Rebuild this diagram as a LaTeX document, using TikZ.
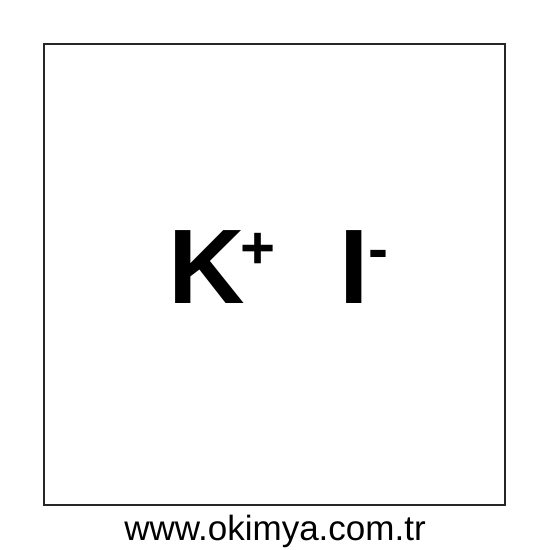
\documentclass[tikz,border=0pt]{standalone}
\usepackage{fontspec}
\setmainfont{Liberation Sans}
\usetikzlibrary{positioning}

\newcommand{\ioncharge}[2]{\raisebox{#1}{\fontsize{60}{64}\selectfont #2}}

\tikzset{
  ion/.style={inner sep=0pt, anchor=base west, font=\fontsize{106}{110}\selectfont\bfseries},
  site/.style={inner sep=0pt, anchor=base, font=\fontsize{35}{40}\selectfont}
}

\begin{document}
\begin{tikzpicture}[x=1pt,y=-1pt]
    \useasboundingbox (0,0) rectangle (550,550);
    % frame
    \draw[line width=2pt, black!85] (44,44) rectangle (505,505);

    % ions
    \node[ion] (kion) at (168,303) {K\kern-4pt\ioncharge{35pt}{+}};
    \node[ion] (iion) at (338.8,303) {I\ioncharge{34pt}{-}};

    % source
    \node[site] (web) at (275,540) {www.okimya.com.tr};
\end{tikzpicture}
\end{document}
